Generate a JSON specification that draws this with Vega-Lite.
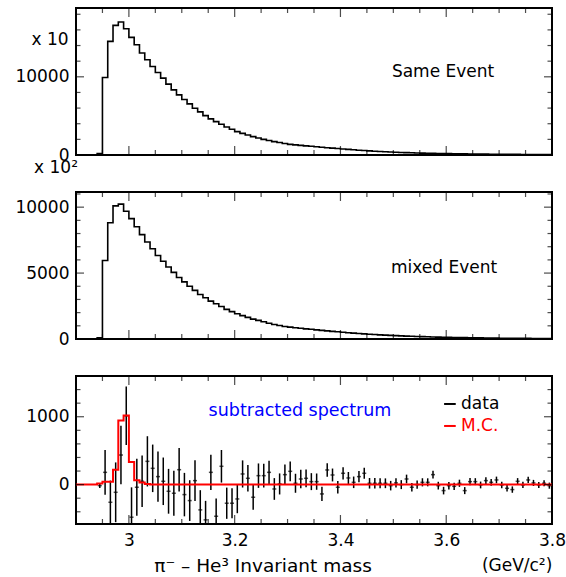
{
  "$schema": "https://vega.github.io/schema/vega-lite/v6.json",
  "autosize": {"type": "pad"},
  "padding": {"left": 13, "top": 7, "right": 5, "bottom": 5},
  "background": "white",
  "config": {
    "view": {"stroke": "black", "strokeWidth": 2},
    "font": "DejaVu Sans",
    "axis": {"grid": false, "domain": false, "ticks": false, "labelFont": "DejaVu Sans", "labelFontSize": 17, "labelColor": "black", "labelOverlap": false, "labelFlush": false, "labelBound": false},
    "text": {"font": "DejaVu Sans", "fontSize": 17},
    "tick": {"color": "black", "thickness": 1.2}
  },
  "datasets": {
    "one": [{"k": 1}],
    "xM": [{"t":3},{"t":3.2},{"t":3.4},{"t":3.6},{"t":3.8}],
    "xm": [{"t":2.95},{"t":3.05},{"t":3.1},{"t":3.15},{"t":3.25},{"t":3.3},{"t":3.35},{"t":3.45},{"t":3.5},{"t":3.55},{"t":3.65},{"t":3.7},{"t":3.75}],
    "y1M": [{"t":0},{"t":10000}],
    "y1m": [{"t":2000},{"t":4000},{"t":6000},{"t":8000},{"t":12000},{"t":14000},{"t":16000},{"t":18000}],
    "y2M": [{"t":0},{"t":5000},{"t":10000}],
    "y2m": [{"t":1000},{"t":2000},{"t":3000},{"t":4000},{"t":6000},{"t":7000},{"t":8000},{"t":9000},{"t":11000}],
    "y3M": [{"t":0},{"t":1000}],
    "y3m": [{"t":-400},{"t":-200},{"t":200},{"t":400},{"t":600},{"t":800},{"t":1200},{"t":1400}],
    "hist": [
      {"x":2.9,"s":0,"m":0,"mc":0},{"x":2.91,"s":0,"m":0,"mc":0},{"x":2.92,"s":0,"m":0,"mc":0},{"x":2.93,"s":0,"m":0,"mc":0},
      {"x":2.94,"s":170,"m":100,"mc":15},{"x":2.95,"s":9910,"m":5950,"mc":44},{"x":2.96,"s":14530,"m":8820,"mc":44},{"x":2.97,"s":16580,"m":10100,"mc":220},
      {"x":2.98,"s":17010,"m":10230,"mc":945},{"x":2.99,"s":16150,"m":9690,"mc":1020},{"x":3.0,"s":15040,"m":9130,"mc":335},{"x":3.01,"s":14100,"m":8510,"mc":64},
      {"x":3.02,"s":13040,"m":7920,"mc":30},{"x":3.03,"s":12180,"m":7360,"mc":10},{"x":3.04,"s":11320,"m":6840,"mc":0},{"x":3.05,"s":10550,"m":6330,"mc":0},
      {"x":3.06,"s":9830,"m":5900,"mc":0},{"x":3.07,"s":9060,"m":5460,"mc":0},{"x":3.08,"s":8330,"m":5050,"mc":0},{"x":3.09,"s":7690,"m":4670,"mc":0},
      {"x":3.1,"s":7090,"m":4330,"mc":0},{"x":3.11,"s":6540,"m":4000,"mc":0},{"x":3.12,"s":5980,"m":3690,"mc":0},{"x":3.13,"s":5510,"m":3380,"mc":0},
      {"x":3.14,"s":5040,"m":3130,"mc":0},{"x":3.15,"s":4620,"m":2870,"mc":0},{"x":3.16,"s":4270,"m":2670,"mc":0},{"x":3.17,"s":3930,"m":2460,"mc":0},
      {"x":3.18,"s":3590,"m":2250,"mc":0},{"x":3.19,"s":3290,"m":2080,"mc":0},{"x":3.2,"s":2990,"m":1920,"mc":0},{"x":3.21,"s":2760,"m":1770,"mc":0},
      {"x":3.22,"s":2550,"m":1640,"mc":0},{"x":3.23,"s":2350,"m":1510,"mc":0},{"x":3.24,"s":2170,"m":1410,"mc":0},{"x":3.25,"s":2000,"m":1310,"mc":0},
      {"x":3.26,"s":1850,"m":1200,"mc":0},{"x":3.27,"s":1710,"m":1100,"mc":0},{"x":3.28,"s":1590,"m":1020,"mc":0},{"x":3.29,"s":1470,"m":950,"mc":0},
      {"x":3.3,"s":1360,"m":900,"mc":0},{"x":3.31,"s":1290,"m":855,"mc":0},{"x":3.32,"s":1230,"m":810,"mc":0},{"x":3.33,"s":1170,"m":770,"mc":0},
      {"x":3.34,"s":1110,"m":735,"mc":0},{"x":3.35,"s":1050,"m":695,"mc":0},{"x":3.36,"s":990,"m":655,"mc":0},{"x":3.37,"s":935,"m":615,"mc":0},
      {"x":3.38,"s":880,"m":580,"mc":0},{"x":3.39,"s":825,"m":545,"mc":0},{"x":3.4,"s":770,"m":510,"mc":0},{"x":3.41,"s":715,"m":478,"mc":0},
      {"x":3.42,"s":665,"m":447,"mc":0},{"x":3.43,"s":615,"m":418,"mc":0},{"x":3.44,"s":570,"m":390,"mc":0},{"x":3.45,"s":525,"m":363,"mc":0},
      {"x":3.46,"s":485,"m":338,"mc":0},{"x":3.47,"s":445,"m":315,"mc":0},{"x":3.48,"s":410,"m":293,"mc":0},{"x":3.49,"s":378,"m":272,"mc":0},
      {"x":3.5,"s":350,"m":253,"mc":0},{"x":3.51,"s":325,"m":236,"mc":0},{"x":3.52,"s":300,"m":220,"mc":0},{"x":3.53,"s":280,"m":205,"mc":0},
      {"x":3.54,"s":262,"m":191,"mc":0},{"x":3.55,"s":245,"m":178,"mc":0},{"x":3.56,"s":228,"m":166,"mc":0},{"x":3.57,"s":212,"m":155,"mc":0},
      {"x":3.58,"s":197,"m":144,"mc":0},{"x":3.59,"s":183,"m":134,"mc":0},{"x":3.6,"s":170,"m":125,"mc":0},{"x":3.61,"s":160,"m":117,"mc":0},
      {"x":3.62,"s":150,"m":109,"mc":0},{"x":3.63,"s":141,"m":101,"mc":0},{"x":3.64,"s":133,"m":94,"mc":0},{"x":3.65,"s":125,"m":88,"mc":0},
      {"x":3.66,"s":118,"m":82,"mc":0},{"x":3.67,"s":111,"m":76,"mc":0},{"x":3.68,"s":104,"m":71,"mc":0},{"x":3.69,"s":97,"m":66,"mc":0},
      {"x":3.7,"s":91,"m":62,"mc":0},{"x":3.71,"s":86,"m":58,"mc":0},{"x":3.72,"s":81,"m":54,"mc":0},{"x":3.73,"s":76,"m":50,"mc":0},
      {"x":3.74,"s":72,"m":47,"mc":0},{"x":3.75,"s":67,"m":44,"mc":0},{"x":3.76,"s":63,"m":41,"mc":0},{"x":3.77,"s":59,"m":38,"mc":0},
      {"x":3.78,"s":55,"m":36,"mc":0},{"x":3.79,"s":52,"m":34,"mc":0},{"x":3.8,"s":52,"m":34,"mc":0}
    ],
    "sub": [
      {"x":2.945,"v":-15,"e":35},{"x":2.955,"v":181,"e":330},{"x":2.965,"v":-260,"e":320},{"x":2.975,"v":-113,"e":440},
      {"x":2.985,"v":436,"e":430},{"x":2.995,"v":1014,"e":430},{"x":3.005,"v":-480,"e":440},{"x":3.015,"v":-39,"e":420},
      {"x":3.025,"v":49,"e":380},{"x":3.035,"v":343,"e":370},{"x":3.045,"v":240,"e":350},{"x":3.055,"v":118,"e":370},
      {"x":3.065,"v":49,"e":350},{"x":3.075,"v":-98,"e":330},{"x":3.085,"v":-127,"e":330},{"x":3.095,"v":220,"e":320},
      {"x":3.105,"v":-147,"e":320},{"x":3.115,"v":-235,"e":300},{"x":3.125,"v":59,"e":300},{"x":3.135,"v":-372,"e":290},
      {"x":3.145,"v":-519,"e":280},{"x":3.155,"v":181,"e":260},{"x":3.165,"v":-466,"e":260},{"x":3.175,"v":270,"e":240},
      {"x":3.185,"v":-274,"e":230},{"x":3.195,"v":-274,"e":220},{"x":3.205,"v":-211,"e":210},{"x":3.215,"v":157,"e":200},
      {"x":3.225,"v":93,"e":195},{"x":3.235,"v":-186,"e":185},{"x":3.245,"v":132,"e":180},{"x":3.255,"v":132,"e":175},
      {"x":3.265,"v":181,"e":170},{"x":3.275,"v":-64,"e":160},{"x":3.285,"v":10,"e":155},{"x":3.295,"v":147,"e":150},
      {"x":3.305,"v":196,"e":145},{"x":3.315,"v":20,"e":140},{"x":3.325,"v":83,"e":135},{"x":3.335,"v":93,"e":130},
      {"x":3.345,"v":44,"e":125},{"x":3.355,"v":44,"e":120},{"x":3.365,"v":-137,"e":105},{"x":3.375,"v":216,"e":100},
      {"x":3.385,"v":142,"e":95},{"x":3.395,"v":-39,"e":93},{"x":3.405,"v":167,"e":90},{"x":3.415,"v":98,"e":88},
      {"x":3.425,"v":34,"e":85},{"x":3.435,"v":118,"e":83},{"x":3.445,"v":167,"e":80},{"x":3.455,"v":20,"e":78},
      {"x":3.465,"v":20,"e":76},{"x":3.475,"v":20,"e":74},{"x":3.485,"v":20,"e":72},{"x":3.495,"v":-15,"e":70},
      {"x":3.505,"v":25,"e":68},{"x":3.515,"v":0,"e":66},{"x":3.525,"v":83,"e":64},{"x":3.535,"v":-39,"e":62},
      {"x":3.545,"v":0,"e":61},{"x":3.555,"v":34,"e":60},{"x":3.565,"v":34,"e":59},{"x":3.575,"v":147,"e":58},
      {"x":3.585,"v":-15,"e":57},{"x":3.595,"v":-88,"e":56},{"x":3.605,"v":-15,"e":55},{"x":3.615,"v":-25,"e":54},
      {"x":3.625,"v":20,"e":53},{"x":3.635,"v":-88,"e":52},{"x":3.645,"v":44,"e":52},{"x":3.655,"v":44,"e":51},
      {"x":3.665,"v":-5,"e":50},{"x":3.675,"v":59,"e":50},{"x":3.685,"v":34,"e":49},{"x":3.695,"v":69,"e":49},
      {"x":3.705,"v":-5,"e":48},{"x":3.715,"v":-54,"e":48},{"x":3.725,"v":-73,"e":47},{"x":3.735,"v":49,"e":47},
      {"x":3.745,"v":-5,"e":46},{"x":3.755,"v":69,"e":46},{"x":3.765,"v":25,"e":45},{"x":3.775,"v":-5,"e":45},
      {"x":3.785,"v":20,"e":45},{"x":3.795,"v":-15,"e":45}
    ]
  },
  "bounds": "flush",
  "spacing": 37,
  "vconcat": [
    {
      "width": 476, "height": 147,
      "resolve": {"axis": {"x": "independent", "y": "independent"}},
      "layer": [
        {
          "data": {"name": "hist"},
          "mark": {"type": "line", "interpolate": "step-after", "color": "black", "strokeWidth": 1.6},
          "encoding": {
            "x": {"field": "x", "type": "quantitative", "scale": {"domain": [2.9, 3.8], "nice": false, "zero": false},
                  "axis": {"orient": "bottom", "title": null, "labels": false, "values": [3,3.2,3.4,3.6,3.8]}},
            "y": {"field": "s", "type": "quantitative", "scale": {"domain": [0, 18800], "nice": false},
                  "axis": {"orient": "left", "title": null, "format": "d", "labelPadding": 7, "values": [0,10000]}}
          }
        },
        {"data": {"name": "xM"}, "mark": {"type": "tick", "orient": "vertical", "size": 18, "clip": true},
         "encoding": {"x": {"field": "t", "type": "quantitative", "axis": null}, "y": {"datum": 0, "type": "quantitative", "axis": null}}},
        {"data": {"name": "xM"}, "mark": {"type": "tick", "orient": "vertical", "size": 18, "clip": true},
         "encoding": {"x": {"field": "t", "type": "quantitative", "axis": null}, "y": {"datum": 18800, "type": "quantitative", "axis": null}}},
        {"data": {"name": "xm"}, "mark": {"type": "tick", "orient": "vertical", "size": 10, "clip": true},
         "encoding": {"x": {"field": "t", "type": "quantitative", "axis": null}, "y": {"datum": 0, "type": "quantitative", "axis": null}}},
        {"data": {"name": "xm"}, "mark": {"type": "tick", "orient": "vertical", "size": 10, "clip": true},
         "encoding": {"x": {"field": "t", "type": "quantitative", "axis": null}, "y": {"datum": 18800, "type": "quantitative", "axis": null}}},
        {"data": {"name": "y1M"}, "mark": {"type": "tick", "orient": "horizontal", "size": 16, "clip": true},
         "encoding": {"y": {"field": "t", "type": "quantitative", "axis": null}, "x": {"datum": 2.9, "type": "quantitative", "axis": null}}},
        {"data": {"name": "y1M"}, "mark": {"type": "tick", "orient": "horizontal", "size": 16, "clip": true},
         "encoding": {"y": {"field": "t", "type": "quantitative", "axis": null}, "x": {"datum": 3.8, "type": "quantitative", "axis": null}}},
        {"data": {"name": "y1m"}, "mark": {"type": "tick", "orient": "horizontal", "size": 9, "clip": true},
         "encoding": {"y": {"field": "t", "type": "quantitative", "axis": null}, "x": {"datum": 2.9, "type": "quantitative", "axis": null}}},
        {"data": {"name": "y1m"}, "mark": {"type": "tick", "orient": "horizontal", "size": 9, "clip": true},
         "encoding": {"y": {"field": "t", "type": "quantitative", "axis": null}, "x": {"datum": 3.8, "type": "quantitative", "axis": null}}},
        {
          "data": {"name": "one"},
          "mark": {"type": "text", "align": "center", "baseline": "middle", "color": "black"},
          "encoding": {
            "x": {"datum": 3.594, "type": "quantitative", "axis": null},
            "y": {"datum": 10615, "type": "quantitative", "axis": null},
            "text": {"value": "Same Event"}
          }
        },
        {
          "data": {"name": "one"},
          "mark": {"type": "text", "align": "center", "baseline": "middle", "color": "black"},
          "encoding": {
            "x": {"datum": 2.8508, "type": "quantitative", "axis": null},
            "y": {"datum": 14707, "type": "quantitative", "axis": null},
            "text": {"value": "x 10"}
          }
        }
      ]
    },
    {
      "width": 476, "height": 147,
      "resolve": {"axis": {"x": "independent", "y": "independent"}},
      "layer": [
        {
          "data": {"name": "hist"},
          "mark": {"type": "line", "interpolate": "step-after", "color": "black", "strokeWidth": 1.6},
          "encoding": {
            "x": {"field": "x", "type": "quantitative", "scale": {"domain": [2.9, 3.8], "nice": false, "zero": false},
                  "axis": {"orient": "bottom", "title": null, "labels": false, "values": [3,3.2,3.4,3.6,3.8]}},
            "y": {"field": "m", "type": "quantitative", "scale": {"domain": [0, 11150], "nice": false},
                  "axis": {"orient": "left", "title": null, "format": "d", "labelPadding": 7, "values": [0,5000,10000]}}
          }
        },
        {"data": {"name": "xM"}, "mark": {"type": "tick", "orient": "vertical", "size": 18, "clip": true},
         "encoding": {"x": {"field": "t", "type": "quantitative", "axis": null}, "y": {"datum": 0, "type": "quantitative", "axis": null}}},
        {"data": {"name": "xM"}, "mark": {"type": "tick", "orient": "vertical", "size": 18, "clip": true},
         "encoding": {"x": {"field": "t", "type": "quantitative", "axis": null}, "y": {"datum": 11150, "type": "quantitative", "axis": null}}},
        {"data": {"name": "xm"}, "mark": {"type": "tick", "orient": "vertical", "size": 10, "clip": true},
         "encoding": {"x": {"field": "t", "type": "quantitative", "axis": null}, "y": {"datum": 0, "type": "quantitative", "axis": null}}},
        {"data": {"name": "xm"}, "mark": {"type": "tick", "orient": "vertical", "size": 10, "clip": true},
         "encoding": {"x": {"field": "t", "type": "quantitative", "axis": null}, "y": {"datum": 11150, "type": "quantitative", "axis": null}}},
        {"data": {"name": "y2M"}, "mark": {"type": "tick", "orient": "horizontal", "size": 16, "clip": true},
         "encoding": {"y": {"field": "t", "type": "quantitative", "axis": null}, "x": {"datum": 2.9, "type": "quantitative", "axis": null}}},
        {"data": {"name": "y2M"}, "mark": {"type": "tick", "orient": "horizontal", "size": 16, "clip": true},
         "encoding": {"y": {"field": "t", "type": "quantitative", "axis": null}, "x": {"datum": 3.8, "type": "quantitative", "axis": null}}},
        {"data": {"name": "y2m"}, "mark": {"type": "tick", "orient": "horizontal", "size": 9, "clip": true},
         "encoding": {"y": {"field": "t", "type": "quantitative", "axis": null}, "x": {"datum": 2.9, "type": "quantitative", "axis": null}}},
        {"data": {"name": "y2m"}, "mark": {"type": "tick", "orient": "horizontal", "size": 9, "clip": true},
         "encoding": {"y": {"field": "t", "type": "quantitative", "axis": null}, "x": {"datum": 3.8, "type": "quantitative", "axis": null}}},
        {
          "data": {"name": "one"},
          "mark": {"type": "text", "align": "center", "baseline": "middle", "color": "black"},
          "encoding": {
            "x": {"datum": 3.596, "type": "quantitative", "axis": null},
            "y": {"datum": 5391, "type": "quantitative", "axis": null},
            "text": {"value": "mixed Event"}
          }
        },
        {
          "data": {"name": "one"},
          "mark": {"type": "text", "align": "center", "baseline": "middle", "color": "black"},
          "encoding": {
            "x": {"datum": 2.8622, "type": "quantitative", "axis": null},
            "y": {"datum": 12984, "type": "quantitative", "axis": null},
            "text": {"value": "x 10²"}
          }
        }
      ]
    },
    {
      "width": 476, "height": 148,
      "resolve": {"axis": {"x": "independent", "y": "independent"}},
      "layer": [
        {
          "data": {"name": "sub"},
          "mark": {"type": "errorbar", "color": "black", "thickness": 1.5, "clip": true},
          "encoding": {
            "x": {"field": "x", "type": "quantitative", "scale": {"domain": [2.9, 3.8], "nice": false, "zero": false},
                  "axis": {"orient": "bottom", "title": null, "format": "~g", "labelPadding": 8, "values": [3,3.2,3.4,3.6,3.8]}},
            "y": {"field": "v", "type": "quantitative", "scale": {"domain": [-580, 1600], "nice": false, "zero": false},
                  "axis": {"orient": "left", "title": null, "format": "d", "labelPadding": 7, "values": [0,1000]}},
            "yError": {"field": "e"}
          }
        },
        {
          "data": {"name": "sub"},
          "mark": {"type": "tick", "orient": "horizontal", "size": 4, "thickness": 1.5, "clip": true},
          "encoding": {
            "x": {"field": "x", "type": "quantitative", "axis": null},
            "y": {"field": "v", "type": "quantitative", "axis": null}
          }
        },
        {
          "data": {"name": "hist"},
          "mark": {"type": "line", "interpolate": "step-after", "color": "#ff0000", "strokeWidth": 2},
          "encoding": {
            "x": {"field": "x", "type": "quantitative", "axis": null},
            "y": {"field": "mc", "type": "quantitative", "axis": null}
          }
        },
        {"data": {"name": "xM"}, "mark": {"type": "tick", "orient": "vertical", "size": 18, "clip": true},
         "encoding": {"x": {"field": "t", "type": "quantitative", "axis": null}, "y": {"datum": -580, "type": "quantitative", "axis": null}}},
        {"data": {"name": "xM"}, "mark": {"type": "tick", "orient": "vertical", "size": 18, "clip": true},
         "encoding": {"x": {"field": "t", "type": "quantitative", "axis": null}, "y": {"datum": 1600, "type": "quantitative", "axis": null}}},
        {"data": {"name": "xm"}, "mark": {"type": "tick", "orient": "vertical", "size": 10, "clip": true},
         "encoding": {"x": {"field": "t", "type": "quantitative", "axis": null}, "y": {"datum": -580, "type": "quantitative", "axis": null}}},
        {"data": {"name": "xm"}, "mark": {"type": "tick", "orient": "vertical", "size": 10, "clip": true},
         "encoding": {"x": {"field": "t", "type": "quantitative", "axis": null}, "y": {"datum": 1600, "type": "quantitative", "axis": null}}},
        {"data": {"name": "y3M"}, "mark": {"type": "tick", "orient": "horizontal", "size": 16, "clip": true},
         "encoding": {"y": {"field": "t", "type": "quantitative", "axis": null}, "x": {"datum": 2.9, "type": "quantitative", "axis": null}}},
        {"data": {"name": "y3M"}, "mark": {"type": "tick", "orient": "horizontal", "size": 16, "clip": true},
         "encoding": {"y": {"field": "t", "type": "quantitative", "axis": null}, "x": {"datum": 3.8, "type": "quantitative", "axis": null}}},
        {"data": {"name": "y3m"}, "mark": {"type": "tick", "orient": "horizontal", "size": 9, "clip": true},
         "encoding": {"y": {"field": "t", "type": "quantitative", "axis": null}, "x": {"datum": 2.9, "type": "quantitative", "axis": null}}},
        {"data": {"name": "y3m"}, "mark": {"type": "tick", "orient": "horizontal", "size": 9, "clip": true},
         "encoding": {"y": {"field": "t", "type": "quantitative", "axis": null}, "x": {"datum": 3.8, "type": "quantitative", "axis": null}}},
        {
          "data": {"name": "one"},
          "mark": {"type": "text", "align": "center", "baseline": "middle", "color": "#0000ff", "fontSize": 17.5},
          "encoding": {
            "x": {"datum": 3.3235, "type": "quantitative", "axis": null},
            "y": {"datum": 1084, "type": "quantitative", "axis": null},
            "text": {"value": "subtracted spectrum"}
          }
        },
        {
          "data": {"name": "one"},
          "mark": {"type": "rule", "color": "black", "strokeWidth": 2},
          "encoding": {
            "x": {"datum": 3.596, "type": "quantitative", "axis": null},
            "x2": {"datum": 3.618},
            "y": {"datum": 1188, "type": "quantitative", "axis": null}
          }
        },
        {
          "data": {"name": "one"},
          "mark": {"type": "rule", "color": "#ff0000", "strokeWidth": 2},
          "encoding": {
            "x": {"datum": 3.596, "type": "quantitative", "axis": null},
            "x2": {"datum": 3.618},
            "y": {"datum": 864, "type": "quantitative", "axis": null}
          }
        },
        {
          "data": {"name": "one"},
          "mark": {"type": "text", "align": "left", "baseline": "middle", "color": "black"},
          "encoding": {
            "x": {"datum": 3.628, "type": "quantitative", "axis": null},
            "y": {"datum": 1188, "type": "quantitative", "axis": null},
            "text": {"value": "data"}
          }
        },
        {
          "data": {"name": "one"},
          "mark": {"type": "text", "align": "left", "baseline": "middle", "color": "#ff0000"},
          "encoding": {
            "x": {"datum": 3.628, "type": "quantitative", "axis": null},
            "y": {"datum": 864, "type": "quantitative", "axis": null},
            "text": {"value": "M.C."}
          }
        },
        {
          "data": {"name": "one"},
          "mark": {"type": "text", "align": "center", "baseline": "middle", "color": "black", "fontSize": 18.5},
          "encoding": {
            "x": {"datum": 3.2536, "type": "quantitative", "axis": null},
            "y": {"datum": -1199, "type": "quantitative", "axis": null},
            "text": {"value": "π⁻ – He³  Invariant mass"}
          }
        },
        {
          "data": {"name": "one"},
          "mark": {"type": "text", "align": "center", "baseline": "middle", "color": "black"},
          "encoding": {
            "x": {"datum": 3.734, "type": "quantitative", "axis": null},
            "y": {"datum": -1199, "type": "quantitative", "axis": null},
            "text": {"value": "(GeV/c²)"}
          }
        }
      ]
    }
  ]
}
